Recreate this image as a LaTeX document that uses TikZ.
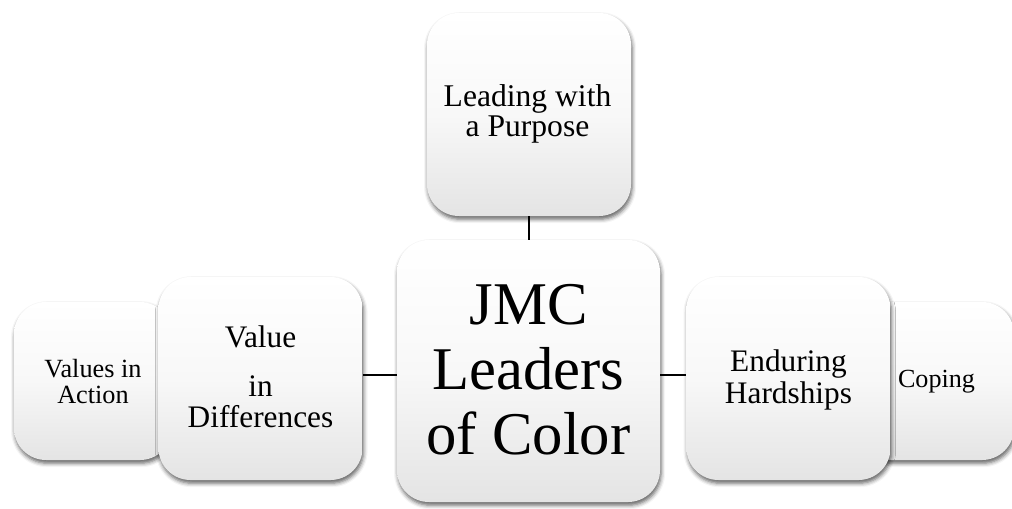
\documentclass[tikz,border=0pt]{standalone}
\usepackage{fontspec}
\setmainfont{Liberation Serif}
\usetikzlibrary{shadows.blur,calc}
\definecolor{boxbot}{RGB}{228,228,228}
\definecolor{boxmid}{RGB}{248,248,248}
\begin{document}
\begin{tikzpicture}[x=0.75pt,y=-0.75pt,
  box/.style={shape=rectangle, rounded corners=24pt, top color=white, bottom color=boxbot, middle color=boxmid, draw=none, inner sep=0pt,
    blur shadow={shadow xshift=0.8pt, shadow yshift=-2.4pt, shadow blur radius=3pt, shadow opacity=62}},
  mainbox/.style={box, minimum width=153pt, minimum height=152.25pt},
  backbox/.style={box, minimum width=118.5pt, minimum height=118.5pt},
  txt/.style={align=center, inner sep=0pt, anchor=base, text=black},
  link/.style={line width=1.6pt, black}]
\useasboundingbox (0,0) rectangle (1012,508);
% boxes
\node[backbox] (va) at (93,381) {};
\node[mainbox] (vd) at (260.5,378.5) {};
\node[backbox] (cp) at (935,381) {};
\node[mainbox] (eh) at (788.5,378.5) {};
\node[mainbox] (tp) at (529,114.5) {};
\node[box, minimum width=197.25pt, minimum height=196.5pt] (ctr) at (528.5,371) {};
% connectors
\coordinate (lm) at ($(vd.east)!0.5!(ctr.west)$);
\coordinate (rm) at ($(eh.west)!0.5!(ctr.east)$);
\draw[link] (tp.south) -- (tp.south |- ctr.north);
\draw[link] (lm -| vd.east) -- (lm -| ctr.west);
\draw[link] (rm -| ctr.east) -- (rm -| eh.west);
% texts (base anchor = baseline of last line)
\node[txt, font=\fontsize{23.7pt}{22.5pt}\selectfont] (tpT) at (527.5,136) {Leading with\\a Purpose};
\node[txt, font=\fontsize{45.5pt}{48.4pt}\selectfont] (ctrT) at (528.5,454) {JMC\\Leaders\\of Color};
\node[txt, font=\fontsize{23.5pt}{23.25pt}\selectfont] (vdT) at (260.5,427) {Value\\[13.5pt]in\\Differences};
\node[txt, font=\fontsize{19.7pt}{19.5pt}\selectfont] (vaT) at (93,403) {Values in\\Action};
\node[txt, font=\fontsize{23.5pt}{23.5pt}\selectfont] (ehT) at (788.5,403) {Enduring\\Hardships};
\node[txt, font=\fontsize{19.6pt}{19.5pt}\selectfont] (cpT) at (936.5,387) {Coping};
\end{tikzpicture}
\end{document}
